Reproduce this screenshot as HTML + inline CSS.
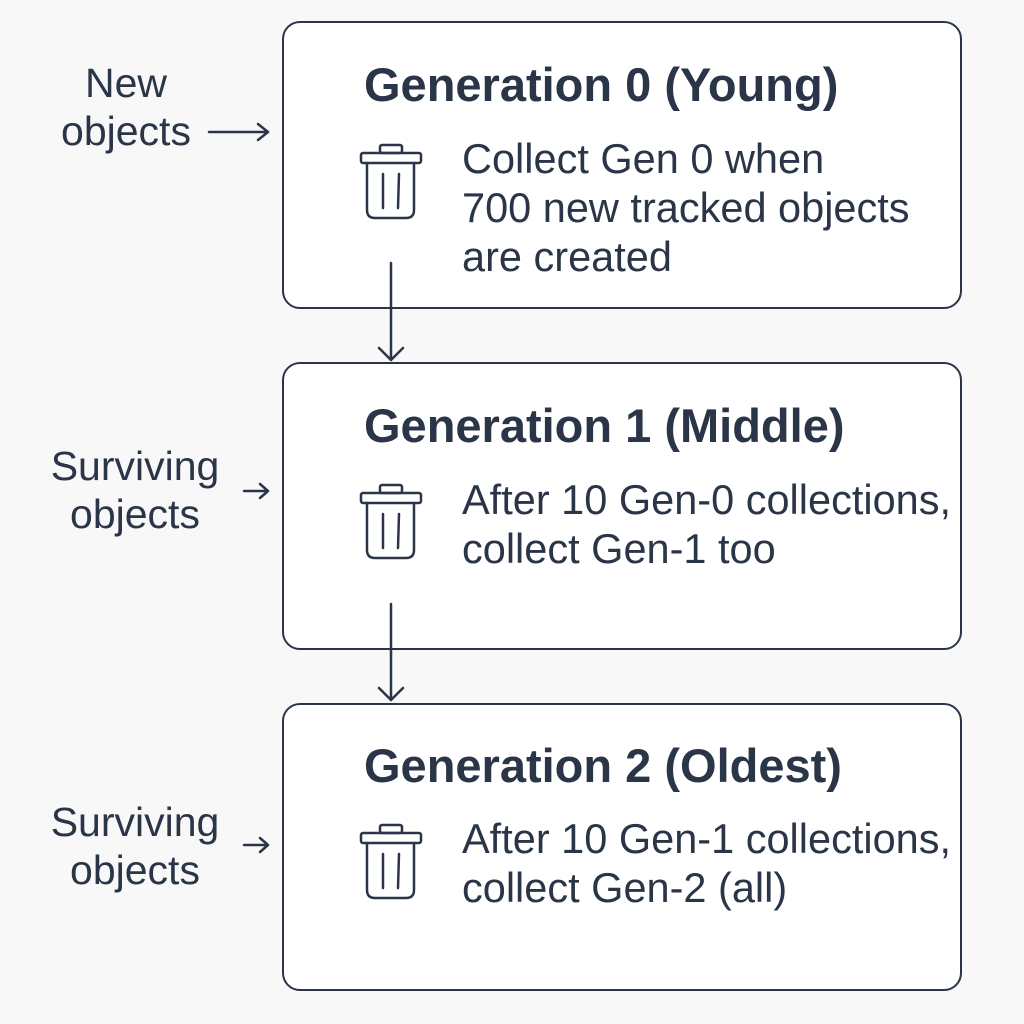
<!DOCTYPE html>
<html><head><style>
body{margin:0;width:1024px;height:1024px;background:#f8f8f8;position:relative;font-family:"Liberation Sans",sans-serif;color:#2b3548;overflow:hidden}
.box{position:absolute;left:282px;width:676px;height:284px;border:2.5px solid #2b3548;border-radius:18px;background:#fff}
.t{position:absolute;left:364px;font-size:47px;line-height:54px;font-weight:bold;white-space:nowrap}
.b{position:absolute;left:462px;font-size:41.5px;line-height:49px;white-space:nowrap}
.l{position:absolute;font-size:41px;line-height:48px;text-align:center;white-space:nowrap}
svg{position:absolute;left:0;top:0}
</style></head><body>
<div class="box" style="top:21px"></div>
<div class="box" style="top:362px"></div>
<div class="box" style="top:703px"></div>
<div class="t" style="top:58px">Generation 0 (Young)</div>
<div class="t" style="top:399px">Generation 1 (Middle)</div>
<div class="t" style="top:739px">Generation 2 (Oldest)</div>
<div class="b" style="top:134px">Collect Gen 0 when<br>700 new tracked objects<br>are created</div>
<div class="b" style="top:475px">After 10 Gen-0 collections,<br>collect Gen-1 too</div>
<div class="b" style="top:814px">After 10 Gen-1 collections,<br>collect Gen-2 (all)</div>
<div class="l" style="left:46px;top:59px;width:160px">New<br>objects</div>
<div class="l" style="left:30px;top:442px;width:210px">Surviving<br>objects</div>
<div class="l" style="left:30px;top:798px;width:210px">Surviving<br>objects</div>
<svg width="1024" height="1024" fill="none" stroke="#2b3548" stroke-width="2.5" stroke-linecap="round" stroke-linejoin="round">
<g id="tr"><rect x="361" y="153" width="60" height="10" rx="2"/><rect x="380" y="145" width="22" height="8" rx="2"/><path d="M367 163 V210 q0 8 8 8 H406 q8 0 8-8 V163"/><path d="M383 174 V208 M399 174 L398 208"/></g>
<use href="#tr" y="340"/><use href="#tr" y="680"/>
<path d="M209 132 H268 M258 124 L268 132 L258 140"/>
<path d="M244 491 H268 M260 484 L268 491 L260 498"/>
<path d="M244 845 H268 M260 838 L268 845 L260 852"/>
<path d="M391 263 V360 M379 348 L391 360 L403 348"/>
<path d="M391 604 V700 M379 688 L391 700 L403 688"/>
</svg>
</body></html>
